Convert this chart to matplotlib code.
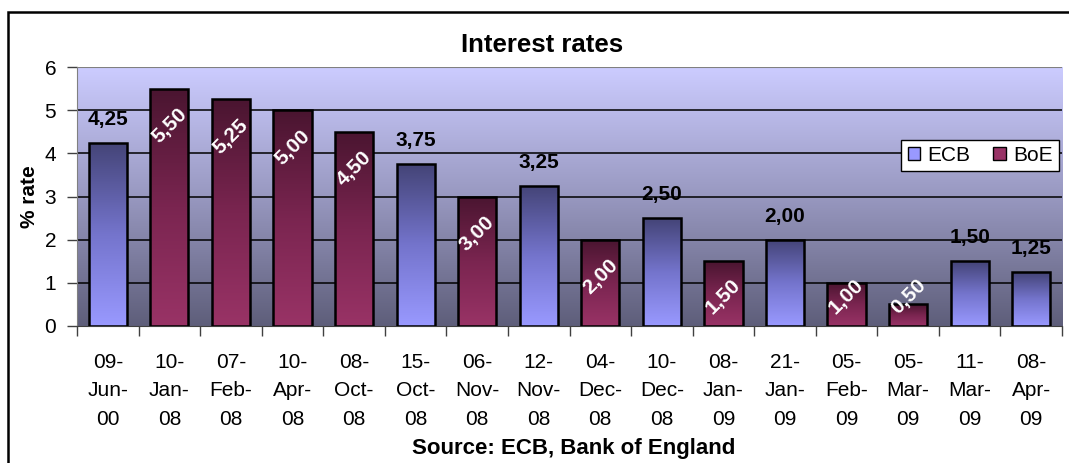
import numpy as np
import matplotlib
matplotlib.use('Agg')
import matplotlib.pyplot as plt
from matplotlib.colors import LinearSegmentedColormap
from matplotlib.patches import Patch, Rectangle

plt.rcParams['font.family'] = ['Liberation Sans', 'DejaVu Sans']

dates = ['09-\nJun-\n00', '10-\nJan-\n08', '07-\nFeb-\n08', '10-\nApr-\n08', '08-\nOct-\n08',
         '15-\nOct-\n08', '06-\nNov-\n08', '12-\nNov-\n08', '04-\nDec-\n08', '10-\nDec-\n08',
         '08-\nJan-\n09', '21-\nJan-\n09', '05-\nFeb-\n09', '05-\nMar-\n09', '11-\nMar-\n09',
         '08-\nApr-\n09']
rates = [4.25, 5.50, 5.25, 5.00, 4.50, 3.75, 3.00, 3.25, 2.00, 2.50, 1.50, 2.00, 1.00, 0.50, 1.50, 1.25]
bank = ['ECB', 'BoE', 'BoE', 'BoE', 'BoE', 'ECB', 'BoE', 'ECB', 'BoE', 'ECB', 'BoE', 'ECB', 'BoE', 'BoE', 'ECB', 'ECB']

cmaps = {
    'ECB': LinearSegmentedColormap.from_list('ecb', ['#9999FF', '#7474CC', '#444477']),
    'BoE': LinearSegmentedColormap.from_list('boe', ['#993366', '#7A2550', '#4A1530']),
}
legend_colors = {'ECB': '#9999FF', 'BoE': '#993366'}
bg_cmap = LinearSegmentedColormap.from_list('bg', ['#5E5E7A', '#9898C0', '#CCCCFF'])

fig = plt.figure(figsize=(10.69, 4.63), dpi=100)
ax = fig.add_axes([0.072, 0.296, 0.9215, 0.559])

n = len(rates)
x = np.arange(n)
width = 0.62
ax.set_xlim(-0.5, n - 0.5)
ax.set_ylim(0, 6)

grad = np.linspace(0, 1, 256).reshape(-1, 1)
ax.imshow(grad, extent=[-0.5, n - 0.5, 0, 6], origin='lower', cmap=bg_cmap,
          aspect='auto', zorder=0)

for y in range(1, 7):
    ax.axhline(y, color='black', lw=1.1, zorder=1)

bars = ax.bar(x, rates, width=width, facecolor='none', edgecolor='black', lw=1.8, zorder=3)
for b, v, k, xi in zip(bars, rates, bank, x):
    im = ax.imshow(grad, extent=[xi - width / 2, xi + width / 2, 0, v], origin='lower',
                   cmap=cmaps[k], aspect='auto', zorder=2)
    im.set_clip_path(b)
    lab = f'{v:.2f}'.replace('.', ',')
    if k == 'ECB':
        ax.annotate(lab, (xi, v), xytext=(0, 10), textcoords='offset points',
                    ha='center', va='bottom', fontsize=15, fontweight='bold', zorder=5)
    else:
        ax.text(xi, max(v - 0.86, 0.68), lab, rotation=45, ha='center', va='center',
                color='white', fontsize=15, fontweight='bold', zorder=5)

ax.set_xlim(-0.5, n - 0.5)
ax.set_ylim(0, 6)
ax.set_yticks(range(0, 7))
ax.tick_params(axis='y', labelsize=15, length=7, width=1, color='#404040', pad=8)
ax.set_xticks(x)
ax.set_xticklabels(dates, fontsize=15, linespacing=1.62)
ax.tick_params(axis='x', length=0, pad=19.5)
ax.set_xticks(np.arange(-0.5, n), minor=True)
ax.tick_params(axis='x', which='minor', length=7, width=1, color='#404040')

for s in ['top', 'right']:
    ax.spines[s].set_visible(False)
ax.spines['left'].set_color('#808080')
ax.spines['bottom'].set_color('#404040')
ax.axhline(6, color='#808080', lw=1.5, zorder=1)

fig.text(0.507, 0.903, 'Interest rates', ha='center', va='center',
         fontsize=18.5, fontweight='bold')
ax.set_ylabel('% rate', fontsize=15, fontweight='bold', labelpad=4)
fig.text(0.537, 0.032, 'Source: ECB, Bank of England', ha='center', va='center',
         fontsize=16, fontweight='bold')

handles = [Patch(facecolor=legend_colors[k], edgecolor='black', label=k) for k in ['ECB', 'BoE']]
leg = ax.legend(handles=handles, loc='upper right', bbox_to_anchor=(0.997, 0.72), ncol=2,
                fontsize=15, frameon=True, fancybox=False, handlelength=0.6, handleheight=0.6,
                handletextpad=0.35, columnspacing=1.1, borderpad=0.3, borderaxespad=0)
leg.get_frame().set_edgecolor('black')
leg.get_frame().set_linewidth(1.0)
leg.get_frame().set_facecolor('white')
leg.get_frame().set_alpha(1)
leg.set_zorder(6)

fig.patches.append(Rectangle((8 / 1069, -0.01), 1.2, 1 - 12 / 463 + 0.01,
                             transform=fig.transFigure, fill=False, edgecolor='black', lw=1.8))

fig.savefig('out.png', dpi=100)
